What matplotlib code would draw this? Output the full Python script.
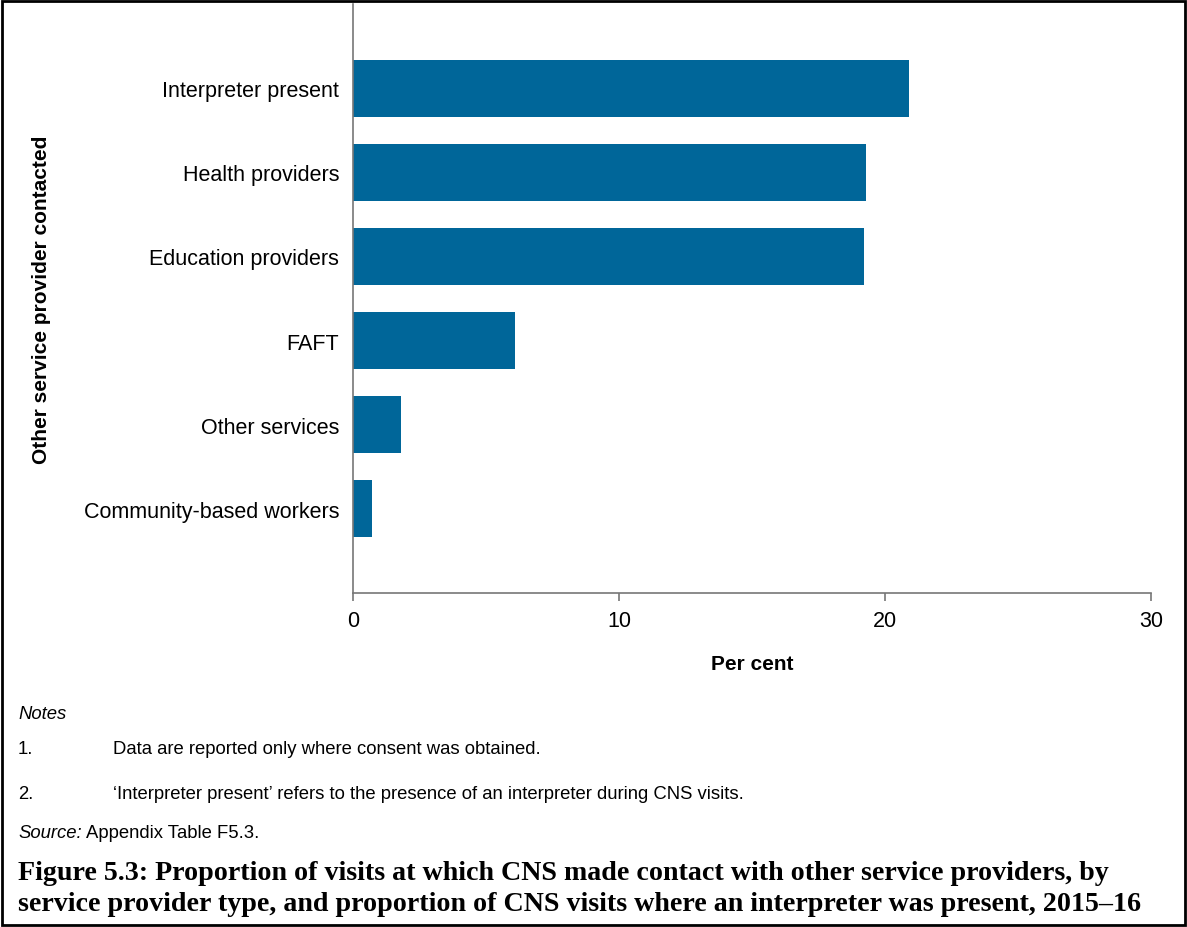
import matplotlib
matplotlib.use("Agg")
import matplotlib.pyplot as plt
from matplotlib.patches import Rectangle

categories = ["Community-based workers", "Other services", "FAFT",
              "Education providers", "Health providers", "Interpreter present"]
values = [0.7, 1.8, 6.1, 19.2, 19.3, 20.9]
xticks = [0, 10, 20, 30]

notes = ["Data are reported only where consent was obtained.",
         "\u2018Interpreter present\u2019 refers to the presence of an interpreter during CNS visits."]
caption = ("Figure 5.3: Proportion of visits at which CNS made contact with other service providers, by\n"
           "service provider type, and proportion of CNS visits where an interpreter was present, 2015\u201316")

plt.rcParams["font.family"] = ["Liberation Sans", "DejaVu Sans"]

W, H = 1187, 928
fig = plt.figure(figsize=(W / 100, H / 100), dpi=100)
ax = fig.add_axes([353 / W, 1 - 594 / H, (1151 - 353) / W, (594 - 5) / H])

ax.barh(range(len(categories)), values, height=0.68, color="#006699", edgecolor="none")
ax.set_ylim(-1, len(categories))
ax.set_xlim(0, 30)
ax.set_xticks(xticks)
ax.set_yticks(range(len(categories)))
ax.set_yticklabels(categories, fontsize=15.5)
ax.tick_params(axis="y", length=0, pad=10)
ax.tick_params(axis="x", length=6, width=1.2, color="#777777", labelsize=15.5, pad=6)
for side in ("top", "right"):
    ax.spines[side].set_visible(False)
for side in ("left", "bottom"):
    ax.spines[side].set_color("#777777")
    ax.spines[side].set_linewidth(1.2)

ax.set_xlabel("Per cent", fontsize=15, fontweight="bold", labelpad=17)
fig.text(42 / W, 1 - 300 / H, "Other service provider contacted", rotation=90,
         fontsize=15, fontweight="bold", ha="center", va="center")

# notes block
fs = 13.3
fig.text(18 / W, 1 - 719 / H, "Notes", fontsize=fs, style="italic", va="baseline")
for i, (y, note) in enumerate(zip((754, 799), notes)):
    fig.text(18 / W, 1 - y / H, f"{i + 1}.", fontsize=fs, va="baseline")
    fig.text(113 / W, 1 - y / H, note, fontsize=fs, va="baseline")
src = fig.text(18 / W, 1 - 838 / H, "Source:", fontsize=fs, style="italic", va="baseline")
ax.annotate("Appendix Table F5.3.", xy=(1, 0), xycoords=src, xytext=(3, 0),
            textcoords="offset points", fontsize=fs, va="bottom", annotation_clip=False)

fig.text(18 / W, 1 - 889 / H, caption, fontsize=20.2, fontweight="bold",
         family=["Liberation Serif", "DejaVu Serif"], va="center", linespacing=1.3)

fig.patches.append(Rectangle((0.002, 0.002), 0.996, 0.996, transform=fig.transFigure,
                             fill=False, edgecolor="black", linewidth=2))

fig.savefig("out.png", dpi=100)
